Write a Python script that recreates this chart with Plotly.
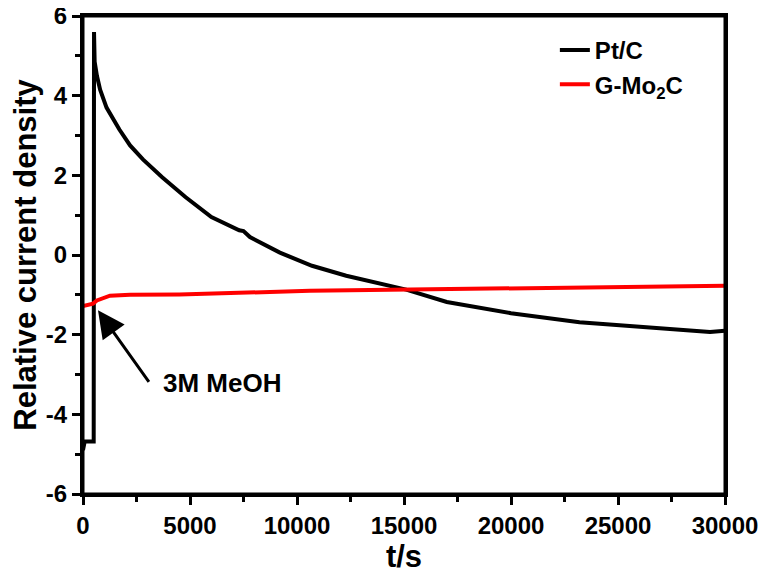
import plotly.graph_objects as go

# Pt/C chronoamperometry (relative current density vs time)
pt_t = [0, 80, 450, 500, 515, 545, 650, 800, 1100, 1400, 1700, 2200, 2800,
        3700, 4800, 6000, 7000, 7300, 7500, 7800, 9200, 10700, 12300, 13800,
        15100, 17000, 20000, 23200, 26300, 28700, 29300, 30000]
pt_j = [-4.9, -4.68, -4.68, -4.68, 5.6, 4.85, 4.5, 4.15, 3.7, 3.4, 3.15, 2.75,
        2.4, 1.95, 1.45, 0.95, 0.7, 0.62, 0.6, 0.45, 0.06, -0.27, -0.52, -0.7,
        -0.87, -1.18, -1.46, -1.69, -1.82, -1.92, -1.93, -1.9]

# G-Mo2C
mo_t = [0, 300, 470, 650, 900, 1260, 2200, 4500, 10600, 15000, 20000, 25000, 30000]
mo_j = [-1.28, -1.25, -1.22, -1.14, -1.08, -1.02, -1.0, -0.99, -0.9, -0.87,
        -0.84, -0.8, -0.77]

x_ticks = [0, 5000, 10000, 15000, 20000, 25000, 30000]
x_labels = ["0", "5000", "10000", "15000", "20000", "25000", "30000"]
y_ticks = [-6, -4, -2, 0, 2, 4, 6]
y_labels = ["-6", "-4", "-2", "0", "2", "4", "6"]

fnt = "Liberation Sans, Arial, sans-serif"

fig = go.Figure()
fig.add_trace(go.Scatter(x=pt_t, y=pt_j, mode="lines", name="Pt/C",
                         line=dict(color="black", width=4)))
fig.add_trace(go.Scatter(x=mo_t, y=mo_j, mode="lines", name="G-Mo<sub>2</sub>C",
                         line=dict(color="#ff0000", width=4)))

# arrow + label for methanol addition
fig.add_annotation(x=700, y=-1.39, ax=3130, ay=-3.22, axref="x", ayref="y",
                   text="", showarrow=True, arrowhead=2, arrowsize=1.8,
                   arrowwidth=3, arrowcolor="black")
fig.add_annotation(x=6500, y=-3.22, text="3M MeOH", showarrow=False,
                   font=dict(family=fnt, size=26, color="black", weight="bold"))

# frame around the plot area
fig.add_shape(type="rect", xref="paper", yref="paper", x0=0, y0=0, x1=1, y1=1,
              line=dict(color="black", width=3), layer="above")

axis_common = dict(
    showline=True, linecolor="black", linewidth=3, mirror=True,
    ticks="outside", ticklen=8, tickwidth=3, tickcolor="black",
    showgrid=False, zeroline=False, automargin=False, ticklabeloverflow="allow",
    tickfont=dict(family=fnt, size=24, color="black", weight="bold"),
)

fig.update_xaxes(range=[0, 30000], tickvals=x_ticks, ticktext=x_labels,
                 minor=dict(ticks="outside", ticklen=5, tickwidth=2.5,
                            dtick=2500, tick0=0, tickcolor="black"),
                 title=dict(text="t/s", standoff=8,
                            font=dict(family=fnt, size=31, color="black", weight="bold")),
                 **axis_common)
fig.update_yaxes(range=[-6, 6], tickvals=y_ticks, ticktext=y_labels,
                 minor=dict(ticks="outside", ticklen=5, tickwidth=2.5,
                            dtick=1, tick0=0, tickcolor="black"),
                 title=dict(text="Relative current density", standoff=2,
                            font=dict(family=fnt, size=31, color="black", weight="bold")),
                 **axis_common)

# page body has an 8px margin, so the figure is sized to fit inside it
fig.update_layout(
    width=758, height=571,
    margin=dict(l=75, r=41, t=8, b=85),
    plot_bgcolor="white", paper_bgcolor="white",
    showlegend=True,
    legend=dict(x=0.735, y=0.975, xanchor="left", yanchor="top",
                bgcolor="rgba(0,0,0,0)", borderwidth=0,
                font=dict(family=fnt, size=24, color="black", weight="bold")),
)

fig.write_html("out.html")
